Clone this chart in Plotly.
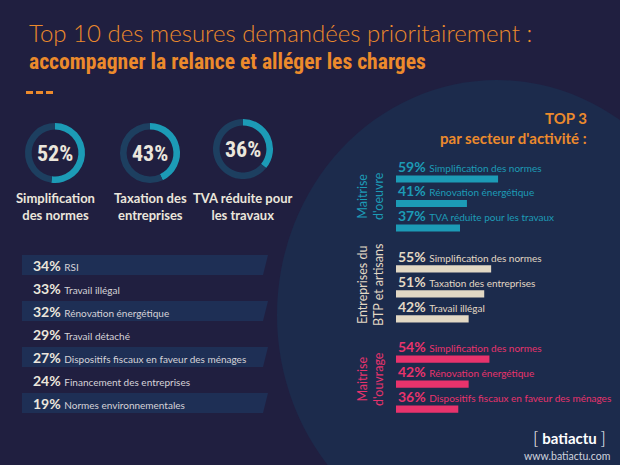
import plotly.graph_objects as go

W, H = 620, 465

# ---------------- data ----------------
title_line1 = "Top 10 des mesures demandées prioritairement :"
title_line2 = "accompagner la relance et alléger les charges"

top3_labels = ["Simplification<br>des normes", "Taxation des<br>entreprises", "TVA réduite pour<br>les travaux"]
top3_values = [52, 43, 36]

list_values = [34, 33, 32, 29, 27, 24, 19]
list_labels = ["RSI", "Travail illégal", "Rénovation énergétique", "Travail détaché",
               "Dispositifs fiscaux en faveur des ménages", "Financement des entreprises",
               "Normes environnementales"]

sector_names = ["Maitrise<br>d'oeuvre", "Entreprises du<br>BTP et artisans", "Maitrise<br>d'ouvrage"]
moe_labels = ["Simplification des normes", "Rénovation énergétique", "TVA réduite pour les travaux"]
moe_values = [59, 41, 37]
btp_labels = ["Simplification des normes", "Taxation des entreprises", "Travail illégal"]
btp_values = [55, 51, 42]
mo_labels = ["Simplification des normes", "Rénovation énergétique", "Dispositifs fiscaux en faveur des ménages"]
mo_values = [54, 42, 36]

# ---------------- style ----------------
BG = "#201f40"
ELLIPSE = "#1c2b4c"
BAND = "#1e2f55"
ORANGE = "#ec8a2c"
CREAM = "#ebe6dc"
TEAL = "#1c9bb6"
TEAL_DARK = "#1d3f60"
BEIGE = "#e2d8c4"
PINK = "#e8336c"
FONT = "Lato, 'Open Sans', sans-serif"
COND = "'Roboto Condensed', 'DejaVu Sans Condensed', sans-serif"


def px_x(x):
    return x / W


def px_y(y):
    return 1 - y / H


fig = go.Figure()
shapes = []
ann = []

# background ellipse
shapes.append(dict(type="circle", xref="paper", yref="paper", layer="below",
                   x0=px_x(277), x1=px_x(717), y0=px_y(550), y1=px_y(80),
                   fillcolor=ELLIPSE, line=dict(width=0)))

# title
ann.append(dict(text=title_line1, x=px_x(27), y=px_y(33), xanchor="left", yanchor="middle",
                font=dict(family=FONT, size=24, color=ORANGE, weight=300)))
ann.append(dict(text="<b>" + title_line2 + "</b>",
                x=px_x(27), y=px_y(62), xanchor="left", yanchor="middle",
                font=dict(family=COND, size=21.6, color=ORANGE)))
for i in range(3):
    shapes.append(dict(type="rect", xref="paper", yref="paper",
                       x0=px_x(26 + 10 * i), x1=px_x(33 + 10 * i), y0=px_y(94), y1=px_y(91),
                       fillcolor=ORANGE, line=dict(width=0)))

# donuts
donut_cx = [55, 150, 243]
donut_cy = [153, 153, 149]
R = 30
for i, (lab, v) in enumerate(zip(top3_labels, top3_values)):
    cx, cy = donut_cx[i], donut_cy[i]
    fig.add_trace(go.Pie(values=[v, 100 - v], sort=False, direction="clockwise", rotation=0,
                         hole=0.78, textinfo="none", hoverinfo="skip", showlegend=False,
                         marker=dict(colors=[TEAL, TEAL_DARK], line=dict(width=0)),
                         domain=dict(x=[px_x(cx - R), px_x(cx + R)], y=[px_y(cy + R), px_y(cy - R)])))
    ann.append(dict(text=f"<b>{v}%</b>",
                    x=px_x(cx), y=px_y(cy), xanchor="center", yanchor="middle",
                    font=dict(family=COND, size=22, color=CREAM)))
    ann.append(dict(text=f"<b>{lab}</b>", x=px_x(cx), y=px_y(206), xanchor="center", yanchor="middle",
                    font=dict(family=FONT, size=13, color=CREAM)))

# list with alternating bands
for i, (v, lab) in enumerate(zip(list_values, list_labels)):
    yc = 265 + i * 23
    if i % 2 == 0:
        shapes.append(dict(type="path", xref="paper", yref="paper", layer="below",
                           path=f"M {px_x(22)} {px_y(yc - 10)} L {px_x(268)} {px_y(yc - 10)} "
                                f"L {px_x(263)} {px_y(yc + 10)} L {px_x(22)} {px_y(yc + 10)} Z",
                           fillcolor=BAND, line=dict(width=0)))
    ann.append(dict(text=f"<b>{v}%</b> <span style='font-size:10px;color:#d6d3d8'>{lab}</span>",
                    x=px_x(31), y=px_y(yc), xanchor="left", yanchor="middle",
                    font=dict(family=FONT, size=14, color=CREAM)))

# TOP 3 header
ann.append(dict(text="<b>TOP 3</b>", x=px_x(589), y=px_y(118), xanchor="right", yanchor="middle",
                font=dict(family=FONT, size=15, color=ORANGE)))
ann.append(dict(text="<b>par secteur d'activité :</b>", x=px_x(589), y=px_y(138), xanchor="right",
                yanchor="middle", font=dict(family=FONT, size=15, color=ORANGE)))

# sector bar charts
groups = [(moe_labels, moe_values, TEAL, 179, 24.5),
          (btp_labels, btp_values, BEIGE, 269, 25),
          (mo_labels, mo_values, PINK, 359, 25)]
sector_cy = [196, 285, 379]
PX_PER_PCT = 1.73
X0 = 396
layout_axes = {}
for g, (labels, values, color, first_c, pitch) in enumerate(groups):
    n = g + 1
    xa = "x" if n == 1 else f"x{n}"
    ya = "y" if n == 1 else f"y{n}"
    fig.add_trace(go.Bar(x=values, y=labels, orientation="h", marker=dict(color=color, line=dict(width=0)),
                         width=0.29, xaxis=xa, yaxis=ya, hoverinfo="skip", showlegend=False))
    top = first_c - pitch / 2
    bot = first_c + pitch * 2.5
    xkey = "xaxis" if n == 1 else f"xaxis{n}"
    ykey = "yaxis" if n == 1 else f"yaxis{n}"
    layout_axes[xkey] = dict(domain=[px_x(X0), 1], range=[0, (W - X0) / PX_PER_PCT], visible=False,
                             fixedrange=True, anchor=ya)
    layout_axes[ykey] = dict(domain=[px_y(bot), px_y(top)], type="category", categoryorder="array",
                             categoryarray=labels, range=[2.5, -0.5], visible=False, fixedrange=True,
                             anchor=xa)
    for i, (lab, v) in enumerate(zip(labels, values)):
        ann.append(dict(text=f"<b>{v}%</b> <span style='font-size:10px'>{lab}</span>",
                        xref=xa, yref=ya, x=0, y=i, xanchor="left", yanchor="middle", yshift=13,
                        font=dict(family=FONT, size=14, color=color)))
    ann.append(dict(text=sector_names[g], x=px_x(370), y=px_y(sector_cy[g]), textangle=-90,
                    xanchor="center", yanchor="middle",
                    font=dict(family=FONT, size=12.5, color=color)))

# footer
ann.append(dict(text="<span style='font-weight:300;font-size:18px'>[</span> <b>batiactu</b> "
                     "<span style='font-weight:300;font-size:18px'>]</span>",
                x=px_x(608), y=px_y(437), xanchor="right", yanchor="middle",
                font=dict(family=FONT, size=15, color="#ffffff")))
ann.append(dict(text="www.batiactu.com", x=px_x(612), y=px_y(456), xanchor="right", yanchor="middle",
                font=dict(family=FONT, size=10.5, color="#cfd3de")))

for a in ann:
    a.setdefault("xref", "paper")
    a.setdefault("yref", "paper")
    a["showarrow"] = False

fig.update_layout(width=W, height=H, margin=dict(l=0, r=0, t=0, b=0, pad=0),
                  paper_bgcolor=BG, plot_bgcolor="rgba(0,0,0,0)", shapes=shapes, annotations=ann,
                  barmode="overlay", showlegend=False, **layout_axes)

fig.write_html("out.html", config={"displayModeBar": False, "staticPlot": True},
               post_script="document.body.style.margin='0';")
